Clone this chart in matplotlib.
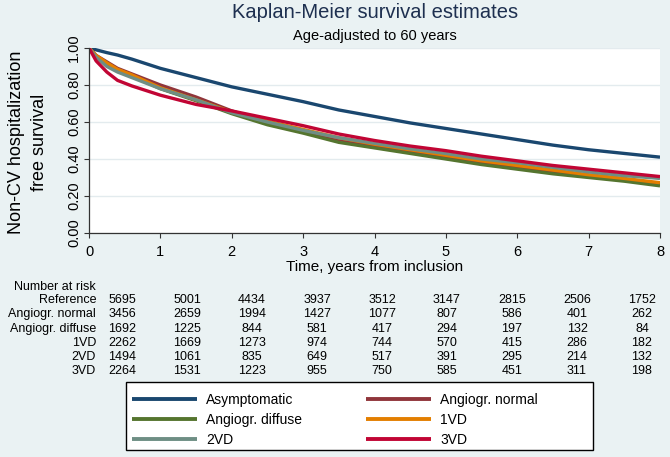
import matplotlib
matplotlib.use("Agg")
import matplotlib.pyplot as plt
from matplotlib.patches import Rectangle

plt.rcParams['font.family'] = ['Liberation Sans', 'DejaVu Sans']

# survival (years since inclusion)
years = [0, 0.1, 0.25, 0.4, 0.6, 0.8, 1, 1.5, 2, 2.5, 3, 3.5, 4, 4.5, 5, 5.5, 6, 6.5, 7, 7.5, 8]

asymptomatic = [1.0, 0.99, 0.975, 0.962, 0.94, 0.915, 0.89, 0.84, 0.79, 0.75, 0.71, 0.665, 0.63,
                0.595, 0.565, 0.535, 0.505, 0.475, 0.45, 0.43, 0.41]
angio_normal = [1.0, 0.96, 0.925, 0.89, 0.86, 0.83, 0.80, 0.735, 0.66, 0.60, 0.55, 0.505, 0.47,
                0.44, 0.41, 0.38, 0.355, 0.33, 0.305, 0.285, 0.262]
angio_diffuse = [1.0, 0.955, 0.91, 0.88, 0.85, 0.815, 0.78, 0.715, 0.645, 0.585, 0.54, 0.49, 0.46,
                 0.43, 0.40, 0.37, 0.345, 0.32, 0.30, 0.28, 0.255]
vd1 = [1.0, 0.96, 0.92, 0.885, 0.855, 0.82, 0.785, 0.72, 0.655, 0.605, 0.56, 0.515, 0.48,
       0.45, 0.42, 0.39, 0.365, 0.34, 0.315, 0.295, 0.272]
vd2 = [1.0, 0.95, 0.90, 0.87, 0.84, 0.81, 0.78, 0.72, 0.65, 0.60, 0.555, 0.515, 0.485,
       0.455, 0.43, 0.40, 0.38, 0.355, 0.33, 0.31, 0.295]
vd3 = [1.0, 0.93, 0.87, 0.825, 0.795, 0.77, 0.745, 0.695, 0.66, 0.62, 0.58, 0.535, 0.50,
       0.47, 0.445, 0.415, 0.39, 0.365, 0.345, 0.325, 0.305]

series_names = ["Asymptomatic", "Angiogr. normal", "Angiogr. diffuse", "1VD", "2VD", "3VD"]
series_colors = ["#1a476f", "#90353b", "#55752f", "#e37e00", "#6e8e84", "#c10534"]

# number at risk table
risk_times = [0, 1, 2, 3, 4, 5, 6, 7, 8]
risk_labels = ["Reference", "Angiogr. normal", "Angiogr. diffuse", "1VD", "2VD", "3VD"]
risk_reference = [5695, 5001, 4434, 3937, 3512, 3147, 2815, 2506, 1752]
risk_normal = [3456, 2659, 1994, 1427, 1077, 807, 586, 401, 262]
risk_diffuse = [1692, 1225, 844, 581, 417, 294, 197, 132, 84]
risk_1vd = [2262, 1669, 1273, 974, 744, 570, 415, 286, 182]
risk_2vd = [1494, 1061, 835, 649, 517, 391, 295, 214, 132]
risk_3vd = [2264, 1531, 1223, 955, 750, 585, 451, 311, 198]

BG = "#eaf2f3"
W, H = 670, 457


def fx(px):
    return px / W


def fy(py):
    return 1 - py / H


fig = plt.figure(figsize=(6.7, 4.57), dpi=100, facecolor=BG)
ax = fig.add_axes([fx(89), fy(233), fx(660) - fx(89), fy(48) - fy(233)])
ax.set_facecolor("white")

curves = [asymptomatic, angio_normal, angio_diffuse, vd1, vd2, vd3]
for ys, name, col in zip(curves, series_names, series_colors):
    ax.plot(years, ys, color=col, lw=2.4, label=name, solid_capstyle="butt")

ax.set_xlim(0, 8)
ax.set_ylim(0, 1)
ax.set_xticks(range(0, 9))
ax.set_yticks([0, 0.2, 0.4, 0.6, 0.8, 1.0])
ax.set_yticklabels(["0.00", "0.20", "0.40", "0.60", "0.80", "1.00"], rotation=90, va="center")
ax.grid(axis="y", color="#e3ebee", lw=1)
ax.set_axisbelow(True)
for s in ["top", "right"]:
    ax.spines[s].set_visible(False)
for s in ["left", "bottom"]:
    ax.spines[s].set_color("#333333")
    ax.spines[s].set_linewidth(0.9)
ax.tick_params(axis="x", length=3.5, width=0.8, pad=5, labelsize=10.5, color="#333333")
ax.tick_params(axis="y", length=3.5, width=0.8, pad=2, labelsize=10.5, color="#333333")
ax.set_xlabel("Time, years from inclusion", fontsize=11, labelpad=1)

# y title placed by hand (two lines, wide gap like the original)
fig.text(fx(28), fy(142), "Non-CV hospitalization\nfree survival", rotation=90,
         ha="center", va="center", multialignment="center", fontsize=13, linespacing=1.45)

fig.text(fx(375), fy(13), "Kaplan-Meier survival estimates", ha="center", va="center",
         fontsize=14.5, color="#1e3050")
fig.text(fx(375), fy(36), "Age-adjusted to 60 years", ha="center", va="center",
         fontsize=10.5)

# number at risk
fig.text(fx(96), fy(287), "Number at risk", ha="right", va="center", fontsize=9)
risk_rows = [risk_reference, risk_normal, risk_diffuse, risk_1vd, risk_2vd, risk_3vd]
for i, (lab, row) in enumerate(zip(risk_labels, risk_rows)):
    yy = fy(300 + 14.3 * i)
    fig.text(fx(96), yy, lab, ha="right", va="center", fontsize=9)
    for t, n in zip(risk_times, row):
        fig.text(fx(122 + 65 * t), yy, str(n), ha="center", va="center", fontsize=9)

# legend
fig.patches.append(Rectangle((fx(126), fy(450)), fx(593) - fx(126), fy(382) - fy(450),
                             transform=fig.transFigure, facecolor="white",
                             edgecolor="black", lw=1, zorder=1))
handles, labels = ax.get_legend_handles_labels()
order = [0, 2, 4, 1, 3, 5]
leg = fig.legend([handles[k] for k in order], [labels[k] for k in order],
                 loc="upper left", bbox_to_anchor=(fx(122), fy(383)), ncol=2,
                 frameon=False, fontsize=10, handlelength=4.7, handletextpad=0.65,
                 columnspacing=4.6, labelspacing=0.45, borderpad=0.2)
for line in leg.get_lines():
    line.set_linewidth(2.8)
leg.set_zorder(2)

fig.savefig("out.png", dpi=100, facecolor=BG)
